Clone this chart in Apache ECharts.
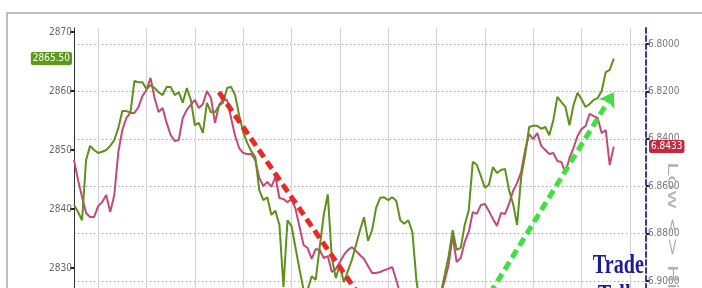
<!DOCTYPE html>
<html>
<head>
<meta charset="utf-8">
<script src="https://cdn.jsdelivr.net/npm/echarts@6/dist/echarts.min.js"></script>
<style>
  html, body { margin: 0; padding: 0; background: #fff; }
  #chart { width: 702px; height: 288px; }
</style>
</head>
<body>
<div id="chart"></div>
<script>
// index of each sample along the session (one per ~5 min)
const categories = Array.from({ length: 143 }, (_, i) => String(i));

// S&P futures (left axis)
const futures = [
  2840.7, 2839.5, 2838.1, 2848.3, 2850.7, 2850.0, 2849.5, 2849.7, 2850.0, 2850.7,
  2851.7, 2853.7, 2856.6, 2856.6, 2856.3, 2861.7, 2861.5, 2861.5, 2860.3, 2861.0,
  2860.5, 2859.8, 2859.3, 2860.7, 2860.7, 2859.3, 2859.8, 2858.0, 2860.5, 2858.5,
  2854.2, 2854.6, 2852.9, 2858.0, 2856.4, 2856.4, 2857.5, 2858.0, 2860.5, 2860.7,
  2859.3, 2855.9, 2853.0, 2851.2, 2849.8, 2848.8, 2843.2, 2841.5, 2842.0, 2839.0,
  2839.7, 2837.3, 2826.8, 2838.1, 2837.1, 2833.4, 2829.7, 2826.3, 2826.3, 2828.6,
  2828.0, 2833.6, 2839.0, 2842.5, 2831.7, 2828.3, 2830.5, 2827.6, 2829.5, 2831.4,
  2833.9, 2836.4, 2838.6, 2834.6, 2836.4, 2840.2, 2841.9, 2842.0, 2841.5, 2842.0,
  2841.4, 2838.1, 2837.5, 2838.1, 2836.1, 2828.0, 2822.9, 2820.3, 2819.5, 2820.3,
  2822.9, 2825.4, 2828.8, 2832.0, 2836.4, 2833.1, 2833.4, 2837.3, 2839.8, 2848.0,
  2847.5, 2845.6, 2843.6, 2844.1, 2847.1, 2846.1, 2846.6, 2846.8, 2843.2, 2840.9,
  2837.3, 2845.4, 2849.2, 2853.9, 2854.1, 2854.1, 2853.6, 2853.9, 2852.5, 2855.1,
  2859.0, 2858.1, 2857.3, 2854.2, 2857.6, 2859.7, 2858.6, 2857.3, 2857.8, 2858.5,
  2858.8, 2860.0, 2863.2, 2863.6, 2865.5
];

// USDCNH (right axis, inverted)
const yuan = [
  6.8489, 6.8574, 6.8646, 6.8713, 6.8730, 6.8730, 6.8684, 6.8667, 6.8637, 6.8709,
  6.8637, 6.8456, 6.8363, 6.8312, 6.8291, 6.8291, 6.8266, 6.8219, 6.8194, 6.8143,
  6.8228, 6.8287, 6.8270, 6.8333, 6.8384, 6.8409, 6.8405, 6.8312, 6.8278, 6.8257,
  6.8236, 6.8270, 6.8253, 6.8198, 6.8228, 6.8333, 6.8257, 6.8236, 6.8236, 6.8312,
  6.8388, 6.8439, 6.8460, 6.8464, 6.8464, 6.8489, 6.8565, 6.8599, 6.8582, 6.8603,
  6.8561, 6.8650, 6.8654, 6.8667, 6.8654, 6.8696, 6.8772, 6.8848, 6.8861, 6.8907,
  6.8865, 6.8869, 6.8903, 6.8895, 6.8962, 6.8949, 6.8920, 6.8890, 6.8869, 6.8857,
  6.8873, 6.8890, 6.8907, 6.8937, 6.8966, 6.8966, 6.8962, 6.8954, 6.8949, 6.8941,
  6.8996, 6.9055, 6.9089, 6.9114, 6.9127, 6.9135, 6.9143, 6.9139, 6.9135, 6.9118,
  6.9084, 6.9055, 6.9000, 6.8932, 6.8810, 6.8920, 6.8903, 6.8835, 6.8793, 6.8709,
  6.8717, 6.8679, 6.8675, 6.8705, 6.8738, 6.8768, 6.8713, 6.8717, 6.8675, 6.8620,
  6.8586, 6.8540, 6.8447, 6.8380, 6.8401, 6.8376, 6.8430, 6.8447, 6.8464, 6.8460,
  6.8494, 6.8498, 6.8544, 6.8481, 6.8439, 6.8388, 6.8359, 6.8346, 6.8295, 6.8304,
  6.8312, 6.8376, 6.8363, 6.8511, 6.8433
];

const leftTicks = [2810, 2820, 2830, 2840, 2850, 2860, 2870];
const rightTicks = [6.80, 6.82, 6.84, 6.86, 6.88, 6.90, 6.92, 6.94];

// hand-drawn trend arrows: [categoryIndex, futures level]
const redTrend = [[36, 2859.8], [80, 2816.3]];
const greenTrend = [[96, 2817.6], [134, 2859.8]];

const lastFutures = futures[futures.length - 1];
const lastYuan = yuan[yuan.length - 1];

const labelFont = "'Liberation Sans Narrow', 'DejaVu Sans Condensed', sans-serif";
const clear = 'rgba(0,0,0,0)';

const chart = echarts.init(document.getElementById('chart'), null, { renderer: 'canvas' });

chart.setOption({
  animation: false,
  backgroundColor: '#fff',
  grid: { left: 74, width: 572, top: 28, height: 358, outerBoundsMode: 'none', containLabel: false },
  xAxis: {
    type: 'category',
    data: categories,
    boundaryGap: false,
    axisLine: { show: false },
    axisTick: { show: false },
    axisLabel: { show: false },
    splitLine: {
      show: true,
      interval: (idx) => (idx - 6) % 12 === 0,
      lineStyle: { color: '#d2d2d2', width: 1 }
    }
  },
  yAxis: [
    {
      type: 'value',
      position: 'left',
      min: 2810,
      max: 2870.68,
      axisLine: { show: true, lineStyle: { color: '#333', width: 1 } },
      axisTick: { show: true, customValues: leftTicks, length: 4, lineStyle: { color: '#222', width: 2 } },
      axisLabel: {
        customValues: leftTicks,
        margin: 2,
        color: '#666',
        fontSize: 10,
        fontFamily: labelFont,
        formatter: (v) => String(v)
      },
      splitLine: { show: false }
    },
    {
      type: 'value',
      position: 'right',
      inverse: true,
      min: 6.79325,
      max: 6.9443,
      axisLine: { show: true, lineStyle: { color: '#3a36b0', width: 2, type: [5, 3] } },
      axisTick: { show: true, customValues: rightTicks, length: 4, lineStyle: { color: '#222', width: 2 } },
      axisLabel: {
        customValues: rightTicks,
        margin: 2,
        color: '#777',
        fontSize: 10,
        fontFamily: labelFont,
        formatter: (v) => v.toFixed(4)
      },
      splitLine: {
        show: true,
        lineStyle: { color: '#aaa', width: 1.2, type: [1.5, 2.5] }
      }
    }
  ],
  series: [
    {
      name: 'USDCNH',
      type: 'line',
      yAxisIndex: 1,
      data: yuan,
      showSymbol: false,
      z: 3,
      lineStyle: { color: '#c24a78', width: 2 },
      markLine: {
        silent: true,
        symbol: 'none',
        z: 10,
        precision: 4,
        data: [
          {
            yAxis: lastYuan,
            lineStyle: { color: clear, width: 0 },
            label: {
              show: true,
              position: 'end',
              distance: 3,
              formatter: () => lastYuan.toFixed(4),
              color: '#fff',
              backgroundColor: '#c5283c',
              padding: [2, 2, 1, 2],
              borderRadius: 2,
              fontSize: 10,
              fontFamily: labelFont
            }
          }
        ]
      }
    },
    {
      name: 'ES',
      type: 'line',
      yAxisIndex: 0,
      data: futures,
      showSymbol: false,
      z: 4,
      lineStyle: { color: '#5f901c', width: 2 },
      markLine: {
        silent: true,
        symbol: 'none',
        z: 10,
        precision: 2,
        data: [
          {
            yAxis: lastFutures,
            lineStyle: { color: clear, width: 0 },
            label: {
              show: true,
              position: 'start',
              distance: 2,
              formatter: () => lastFutures.toFixed(2),
              color: '#fff',
              backgroundColor: '#5c9a1a',
              padding: [2, 2, 1, 2],
              borderRadius: 2,
              fontSize: 10,
              fontFamily: labelFont
            }
          },
          [
            {
              coord: [categories[redTrend[0][0]], redTrend[0][1]],
              lineStyle: { color: '#e82a25', width: 5, type: [9, 5] },
              label: { show: false }
            },
            { coord: [categories[redTrend[1][0]], redTrend[1][1]] }
          ],
          [
            {
              coord: [categories[greenTrend[0][0]], greenTrend[0][1]],
              lineStyle: { color: '#3fe040', width: 5, type: [9, 5] },
              label: { show: false },
              symbol: 'none'
            },
            {
              coord: [categories[greenTrend[1][0]], greenTrend[1][1]],
              symbol: 'arrow',
              symbolSize: 14
            }
          ]
        ]
      }
    }
  ],
  graphic: [
    {
      type: 'rect',
      silent: true,
      shape: { x: 7, y: 13, width: 720, height: 300 },
      style: { fill: 'none', stroke: '#bdbdbd', lineWidth: 2 },
      z: -1
    },
    {
      type: 'text',
      x: 644,
      y: 251,
      scaleX: 0.72,
      style: {
        text: 'Trade\nTalks',
        align: 'right',
        verticalAlign: 'top',
        fill: '#1c1c96',
        font: "bold 28px 'Liberation Serif', serif",
        lineHeight: 30
      },
      z: 20
    },
    {
      type: 'text',
      x: 671,
      y: 162,
      rotation: -Math.PI / 2,
      scaleY: 0.55,
      style: {
        text: 'Low <> High',
        align: 'left',
        verticalAlign: 'middle',
        fill: '#b0b0b0',
        font: "24px 'DejaVu Sans', sans-serif"
      },
      z: 20
    }
  ]
});
</script>
</body>
</html>
